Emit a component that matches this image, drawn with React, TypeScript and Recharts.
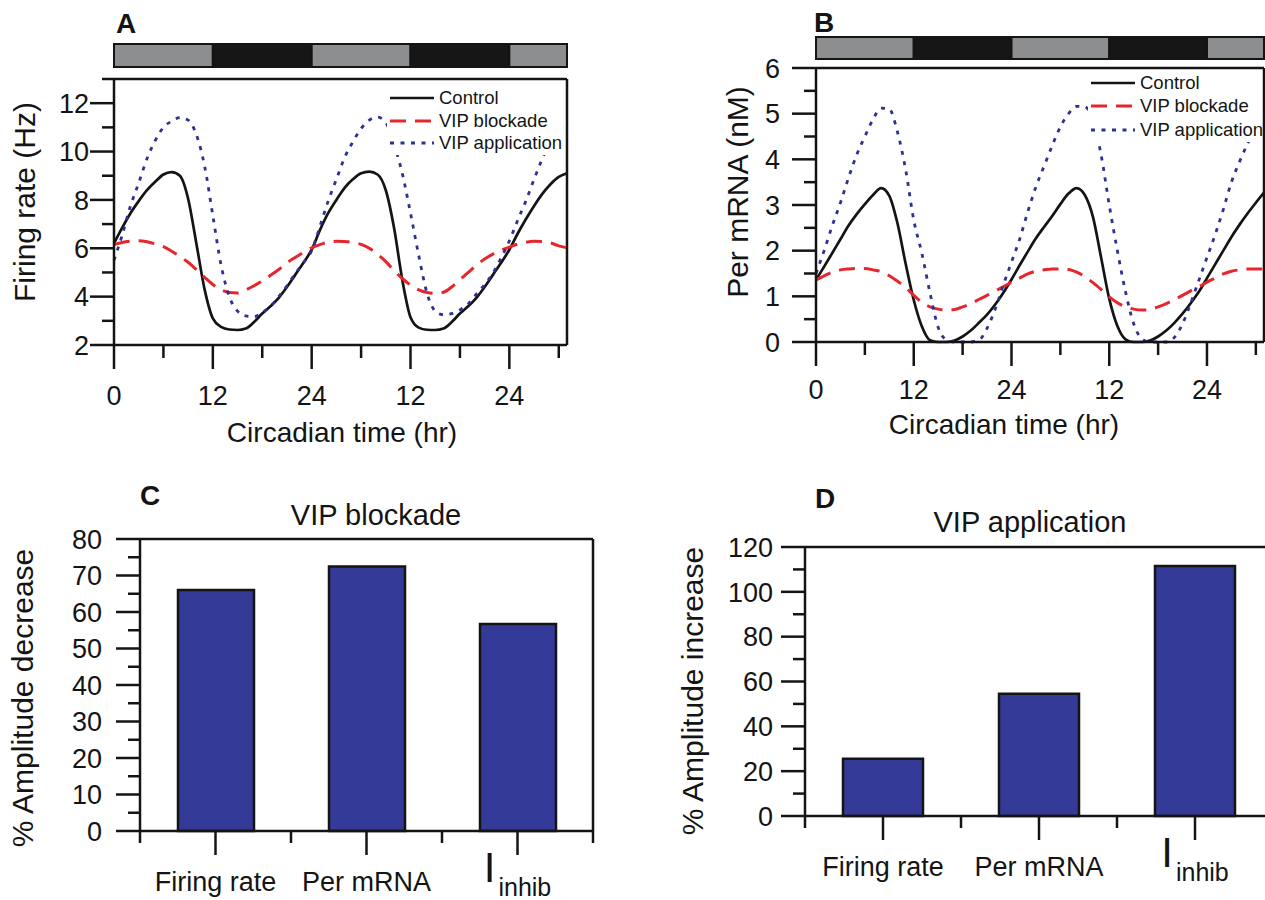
import React from 'react'
import { LineChart, Line, BarChart, Bar, XAxis, YAxis, ReferenceLine, Legend } from 'recharts'

const FONT = '"Liberation Sans", Arial, Helvetica, sans-serif'
const INK = '#141414'
const RED = '#e6262c'
const NAVY = '#2d3191'
const BAR_BLUE = '#343a98'
const LIGHT = '#8d8e8f'
const DARK = '#161616'

// circadian time (hr), one sample per hour
const hours = [
  0, 1, 2, 3, 4, 5, 6, 7, 8, 9, 10, 11, 12, 13, 14, 15, 16, 17, 18, 19, 20, 21, 22, 23, 24, 25, 26, 27,
  28, 29, 30, 31, 32, 33, 34, 35, 36, 37, 38, 39, 40, 41, 42, 43, 44, 45, 46, 47, 48, 49, 50, 51, 52, 53, 54, 55,
]

// panel A - firing rate (Hz)
const firingControl = [
  6.2, 6.85, 7.45, 7.95, 8.4, 8.75, 9.05, 9.15, 9.0, 8.05, 6.2, 4.3, 3.1, 2.75, 2.64, 2.62, 2.68, 2.95, 3.3, 3.6,
  3.95, 4.4, 4.9, 5.4, 5.94, 6.75, 7.45, 8.0, 8.5, 8.85, 9.1, 9.17, 9.05, 8.4, 6.85, 4.7, 3.15, 2.72, 2.63, 2.62,
  2.68, 2.95, 3.3, 3.6, 3.95, 4.4, 4.9, 5.4, 5.94, 6.6, 7.2, 7.75, 8.25, 8.65, 8.95, 9.1,
]
const firingBlockade = [
  6.15, 6.24, 6.29, 6.31, 6.27, 6.18, 6.07, 5.88, 5.66, 5.42, 5.12, 4.8, 4.5, 4.28, 4.17, 4.15, 4.28, 4.45, 4.65, 4.88,
  5.12, 5.4, 5.62, 5.83, 6.02, 6.15, 6.25, 6.29, 6.28, 6.24, 6.16, 6.0, 5.75, 5.45, 5.08, 4.75, 4.48, 4.28, 4.17, 4.14,
  4.18, 4.4, 4.7, 5.0, 5.3, 5.56, 5.76, 5.92, 6.05, 6.17, 6.25, 6.29, 6.28, 6.22, 6.1, 6.02,
]
const firingApplication = [
  5.5, 6.55, 7.75, 8.7, 9.7, 10.45, 11.0, 11.25, 11.4, 11.3, 10.7, 9.4, 7.35, 5.3, 4.0, 3.4, 3.2, 3.17, 3.35, 3.6,
  4.0, 4.45, 4.95, 5.4, 5.9, 6.9, 7.95, 8.85, 9.75, 10.4, 10.95, 11.3, 11.42, 11.2, 10.3, 9.1, 7.45, 5.7, 4.15, 3.4,
  3.25, 3.3, 3.45, 3.7, 4.1, 4.5, 4.97, 5.6, 6.3, 7.15, 7.95, 8.85, 9.7, 10.4, 10.9, 11.2,
]

// panel B - Per mRNA (nM)
const perControl = [
  1.36, 1.65, 1.95, 2.25, 2.55, 2.8, 3.02, 3.22, 3.37, 3.2, 2.6, 1.72, 0.92, 0.34, 0.04, 0.0, 0.0, 0.03, 0.12, 0.25,
  0.42, 0.6, 0.82, 1.08, 1.37, 1.68, 1.98, 2.27, 2.52, 2.76, 3.02, 3.25, 3.37, 3.22, 2.74, 1.85, 0.95, 0.35, 0.06, 0.0,
  0.0, 0.03, 0.12, 0.25, 0.42, 0.62, 0.85, 1.1, 1.4, 1.7, 2.0, 2.3, 2.57, 2.82, 3.05, 3.27,
]
const perBlockade = [
  1.36, 1.45, 1.53, 1.58, 1.6, 1.61, 1.61, 1.58, 1.54, 1.45, 1.33, 1.2, 1.02, 0.87, 0.77, 0.72, 0.7, 0.71, 0.77, 0.84,
  0.93, 1.02, 1.12, 1.21, 1.31, 1.4, 1.49, 1.55, 1.58, 1.6, 1.6, 1.59, 1.53, 1.43, 1.3, 1.15, 0.99, 0.86, 0.77, 0.72,
  0.7, 0.71, 0.77, 0.84, 0.93, 1.02, 1.12, 1.21, 1.31, 1.4, 1.49, 1.55, 1.58, 1.6, 1.6, 1.6,
]
const perApplication = [
  1.5, 2.0, 2.55, 3.05, 3.6, 4.1, 4.5, 4.88, 5.12, 5.1, 4.6, 3.78, 2.67, 1.94, 1.07, 0.32, 0.05, 0, 0, 0,
  0.04, 0.3, 0.72, 1.25, 1.75, 2.25, 2.85, 3.4, 3.85, 4.3, 4.71, 5.0, 5.16, 5.15, 4.85, 4.1, 3.0, 2.0, 1.1, 0.4,
  0.07, 0, 0, 0, 0.1, 0.4, 0.85, 1.35, 1.85, 2.35, 2.9, 3.5, 3.95, 4.35, 4.7, 4.95,
]

// light / dark bar over panels A and B
const ldHours = [12, 12, 12, 12, 7]
const ldPhases = ['light', 'dark', 'light', 'dark', 'light']

const timeTicks = [0, 6, 12, 18, 24, 30, 36, 42, 48, 54]
const timeMajor = [0, 12, 24, 36, 48]
const timeLabels = ['0', '12', '24', '12', '24']

const firingTicks = [2, 3, 4, 5, 6, 7, 8, 9, 10, 11, 12, 13]
const firingMajor = [2, 4, 6, 8, 10, 12]
const perTicks = [0, 0.5, 1, 1.5, 2, 2.5, 3, 3.5, 4, 4.5, 5, 5.5, 6]
const perMajor = [0, 1, 2, 3, 4, 5, 6]

// panels C and D
const measures = ['Firing rate', 'Per mRNA', 'Iinhib']
const blockadeDecrease = [66, 72.5, 56.7]
const applicationIncrease = [25.5, 54.5, 111.5]
const decreaseTicks = [0, 5, 10, 15, 20, 25, 30, 35, 40, 45, 50, 55, 60, 65, 70, 75, 80]
const decreaseMajor = [0, 10, 20, 30, 40, 50, 60, 70, 80]
const increaseTicks = [0, 10, 20, 30, 40, 50, 60, 70, 80, 90, 100, 110, 120]
const increaseMajor = [0, 20, 40, 60, 80, 100, 120]
// category slots: band edges on whole numbers, band centres on halves
const slotTicks = [0, 0.5, 1, 1.5, 2, 2.5, 3]

const series = [
  { key: 'control', name: 'Control', color: INK, dash: undefined, width: 2.7 },
  { key: 'blockade', name: 'VIP blockade', color: RED, dash: '16 9', width: 3 },
  { key: 'application', name: 'VIP application', color: NAVY, dash: '4 6.5', width: 2.8 },
]

const firingData = hours.map((t, i) => ({
  t,
  control: firingControl[i],
  blockade: firingBlockade[i],
  application: firingApplication[i],
}))
const perData = hours.map((t, i) => ({
  t,
  control: perControl[i],
  blockade: perBlockade[i],
  application: perApplication[i],
}))
const ldRow = [Object.fromEntries(ldHours.map((h, i) => [`p${i}`, h]))]
const decreaseData = measures.map((name, i) => ({ slot: i + 0.5, name, value: blockadeDecrease[i] }))
const increaseData = measures.map((name, i) => ({ slot: i + 0.5, name, value: applicationIncrease[i] }))

const axisLine = { stroke: INK, strokeWidth: 2.5 }

function timeTick(labelDrop: number) {
  return ({ x, y, payload }: any) => {
    const i = timeMajor.indexOf(payload.value)
    return (
      <g>
        <line x1={x} y1={y} x2={x} y2={y + (i >= 0 ? 24 : 13)} stroke={INK} strokeWidth={2.5} />
        {i >= 0 && (
          <text x={x} y={y + labelDrop} textAnchor="middle" fontSize={27} fontFamily={FONT} fill={INK}>
            {timeLabels[i]}
          </text>
        )}
      </g>
    )
  }
}

function valueTick(major: number[], gap: number) {
  return ({ x, y, payload }: any) => {
    const isMajor = major.includes(payload.value)
    return (
      <g>
        <line x1={x} y1={y} x2={x - (isMajor ? 24 : 12)} y2={y} stroke={INK} strokeWidth={2.5} />
        {isMajor && (
          <text x={x - gap} y={y} dy="0.36em" textAnchor="end" fontSize={27} fontFamily={FONT} fill={INK}>
            {payload.value}
          </text>
        )}
      </g>
    )
  }
}

function SlotTick({ x, y, payload }: any) {
  const v = payload.value
  if (Number.isInteger(v)) {
    return <line x1={x} y1={y} x2={x} y2={y + 12} stroke={INK} strokeWidth={2.5} />
  }
  const name = measures[Math.floor(v)]
  return (
    <g>
      <line x1={x} y1={y} x2={x} y2={y + 24} stroke={INK} strokeWidth={2.5} />
      {name === 'Iinhib' ? (
        <text x={x} y={y + 51} textAnchor="middle" fontFamily={FONT} fill={INK}>
          <tspan fontSize={42}>I</tspan>
          <tspan fontSize={25} dx={3} dy={14}>inhib</tspan>
        </text>
      ) : (
        <text x={x} y={y + 60} textAnchor="middle" fontSize={27} fontFamily={FONT} fill={INK}>
          {name}
        </text>
      )}
    </g>
  )
}

function AxisTitle({ cx, cy, text, vertical }: { cx: number; cy: number; text: string; vertical?: boolean }) {
  return (
    <text
      x={cx}
      y={cy}
      textAnchor="middle"
      fontSize={vertical ? 30 : 28}
      fontFamily={FONT}
      fill={INK}
      transform={vertical ? `rotate(-90 ${cx} ${cy})` : undefined}
    >
      {text}
    </text>
  )
}

function SeriesKey({ rowHeight }: { rowHeight: number }) {
  return (
    <div style={{ background: '#fff', paddingLeft: 3, fontFamily: FONT, fontSize: 18.5, color: INK }}>
      {series.map(s => (
        <div key={s.key} style={{ display: 'flex', alignItems: 'center', height: rowHeight, whiteSpace: 'nowrap' }}>
          <svg width={44} height={8} style={{ flex: 'none' }}>
            <line x1={0} y1={4} x2={44} y2={4} stroke={s.color} strokeWidth={s.width} strokeDasharray={s.dash} />
          </svg>
          <span style={{ marginLeft: 5, lineHeight: 1 }}>{s.name}</span>
        </div>
      ))}
    </div>
  )
}

function LightDark({ width, height, left, right }: { width: number; height: number; left: number; right: number }) {
  return (
    <BarChart
      layout="vertical"
      width={width}
      height={height}
      data={ldRow}
      margin={{ top: 1, right, bottom: 1, left }}
      barCategoryGap={0}
    >
      <XAxis type="number" domain={[0, 55]} hide />
      <YAxis type="category" hide />
      {ldHours.map((_, i) => (
        <Bar
          key={i}
          dataKey={`p${i}`}
          stackId="ld"
          fill={ldPhases[i] === 'dark' ? DARK : LIGHT}
          stroke={INK}
          strokeWidth={2}
          isAnimationActive={false}
        />
      ))}
    </BarChart>
  )
}

function TimeSeriesLines() {
  return series.map(s => (
    <Line
      key={s.key}
      type="monotone"
      dataKey={s.key}
      name={s.name}
      stroke={s.color}
      strokeWidth={s.width}
      strokeDasharray={s.dash}
      dot={false}
      activeDot={false}
      isAnimationActive={false}
    />
  ))
}

function SlotAxis({ height }: { height: number }) {
  return (
    <XAxis
      type="number"
      dataKey="slot"
      domain={[0, 3]}
      ticks={slotTicks}
      interval={0}
      height={height}
      tickSize={0}
      tickMargin={0}
      tickLine={false}
      axisLine={axisLine}
      tick={(p: any) => <SlotTick {...p} />}
    />
  )
}

export default function App() {
  const pos = (left: number, top: number): React.CSSProperties => ({ position: 'absolute', left, top })
  return (
    <div
      style={{
        position: 'absolute',
        left: 0,
        top: 0,
        width: 1265,
        height: 900,
        overflow: 'hidden',
        background: '#fff',
        fontFamily: FONT,
      }}
    >
      {/* A */}
      <div style={pos(0, 43)}>
        <LightDark width={580} height={25} left={114} right={13} />
      </div>
      <div style={pos(0, 60)}>
        <LineChart width={580} height={400} data={firingData} margin={{ top: 19, right: 13, bottom: 0, left: 0 }}>
          <XAxis
            type="number"
            dataKey="t"
            domain={[0, 55]}
            ticks={timeTicks}
            interval={0}
            height={115}
            tickSize={0}
            tickMargin={0}
            tickLine={false}
            axisLine={axisLine}
            tick={timeTick(60)}
            label={<AxisTitle cx={342} cy={382} text="Circadian time (hr)" />}
          />
          <YAxis
            type="number"
            domain={[2, 13]}
            ticks={firingTicks}
            interval={0}
            width={114}
            tickSize={0}
            tickMargin={0}
            tickLine={false}
            axisLine={axisLine}
            tick={valueTick(firingMajor, 25)}
            label={<AxisTitle cx={35} cy={142} text="Firing rate (Hz)" vertical />}
          />
          <ReferenceLine y={13} stroke={INK} strokeWidth={2.5} />
          <ReferenceLine x={55} stroke={INK} strokeWidth={2.5} />
          {TimeSeriesLines()}
          <Legend
            layout="vertical"
            align="center"
            verticalAlign="middle"
            wrapperStyle={{ top: 27, left: 387, width: 176 }}
            content={() => <SeriesKey rowHeight={22.5} />}
          />
        </LineChart>
      </div>

      {/* B */}
      <div style={pos(690, 36)}>
        <LightDark width={575} height={24} left={126} right={1} />
      </div>
      <div style={pos(690, 50)}>
        <LineChart width={575} height={400} data={perData} margin={{ top: 18, right: 1, bottom: 0, left: 0 }}>
          <XAxis
            type="number"
            dataKey="t"
            domain={[0, 55]}
            ticks={timeTicks}
            interval={0}
            height={108}
            tickSize={0}
            tickMargin={0}
            tickLine={false}
            axisLine={axisLine}
            tick={timeTick(57)}
            label={<AxisTitle cx={314} cy={384} text="Circadian time (hr)" />}
          />
          <YAxis
            type="number"
            domain={[0, 6]}
            ticks={perTicks}
            interval={0}
            width={126}
            tickSize={0}
            tickMargin={0}
            tickLine={false}
            axisLine={axisLine}
            tick={valueTick(perMajor, 36)}
            label={<AxisTitle cx={58} cy={142} text="Per mRNA (nM)" vertical />}
          />
          <ReferenceLine y={6} stroke={INK} strokeWidth={2.5} />
          <ReferenceLine x={55} stroke={INK} strokeWidth={2.5} />
          {TimeSeriesLines()}
          <Legend
            layout="vertical"
            align="center"
            verticalAlign="middle"
            wrapperStyle={{ top: 21, left: 398, width: 174 }}
            content={() => <SeriesKey rowHeight={23.5} />}
          />
        </LineChart>
      </div>

      {/* C */}
      <div style={pos(0, 470)}>
        <BarChart
          width={620}
          height={430}
          data={decreaseData}
          margin={{ top: 69, right: 27, bottom: 0, left: 0 }}
          barSize={76}
        >
          {SlotAxis({ height: 69 })}
          <YAxis
            type="number"
            domain={[0, 80]}
            ticks={decreaseTicks}
            interval={0}
            width={140}
            tickSize={0}
            tickMargin={0}
            tickLine={false}
            axisLine={axisLine}
            tick={valueTick(decreaseMajor, 38)}
            label={<AxisTitle cx={33} cy={228} text="% Amplitude decrease" vertical />}
          />
          <ReferenceLine y={80} stroke={INK} strokeWidth={2.5} />
          <ReferenceLine x={3} stroke={INK} strokeWidth={2.5} />
          <Bar dataKey="value" fill={BAR_BLUE} stroke={INK} strokeWidth={2.5} isAnimationActive={false} />
        </BarChart>
      </div>

      {/* D */}
      <div style={pos(670, 470)}>
        <BarChart
          width={620}
          height={430}
          data={increaseData}
          margin={{ top: 77, right: 17, bottom: 0, left: 0 }}
          barSize={80}
        >
          {SlotAxis({ height: 84 })}
          <YAxis
            type="number"
            domain={[0, 120]}
            ticks={increaseTicks}
            interval={0}
            width={135}
            tickSize={0}
            tickMargin={0}
            tickLine={false}
            axisLine={axisLine}
            tick={valueTick(increaseMajor, 32)}
            label={<AxisTitle cx={33} cy={221} text="% Amplitude increase" vertical />}
          />
          <ReferenceLine y={120} stroke={INK} strokeWidth={2.5} />
          <ReferenceLine x={3} stroke={INK} strokeWidth={2.5} />
          <Bar dataKey="value" fill={BAR_BLUE} stroke={INK} strokeWidth={2.5} isAnimationActive={false} />
        </BarChart>
      </div>

      {/* panel letters and bar chart titles */}
      <svg
        width={1265}
        height={900}
        style={{ position: 'absolute', left: 0, top: 0, pointerEvents: 'none' }}
        fontFamily={FONT}
        fill={INK}
      >
        <text x={116} y={33} fontSize={28} fontWeight="bold">A</text>
        <text x={814} y={32} fontSize={28} fontWeight="bold">B</text>
        <text x={140} y={505} fontSize={28} fontWeight="bold">C</text>
        <text x={815} y={508} fontSize={28} fontWeight="bold">D</text>
        <text x={376} y={525} fontSize={29} textAnchor="middle">VIP blockade</text>
        <text x={1030} y={532} fontSize={29} textAnchor="middle">VIP application</text>
      </svg>
    </div>
  )
}
